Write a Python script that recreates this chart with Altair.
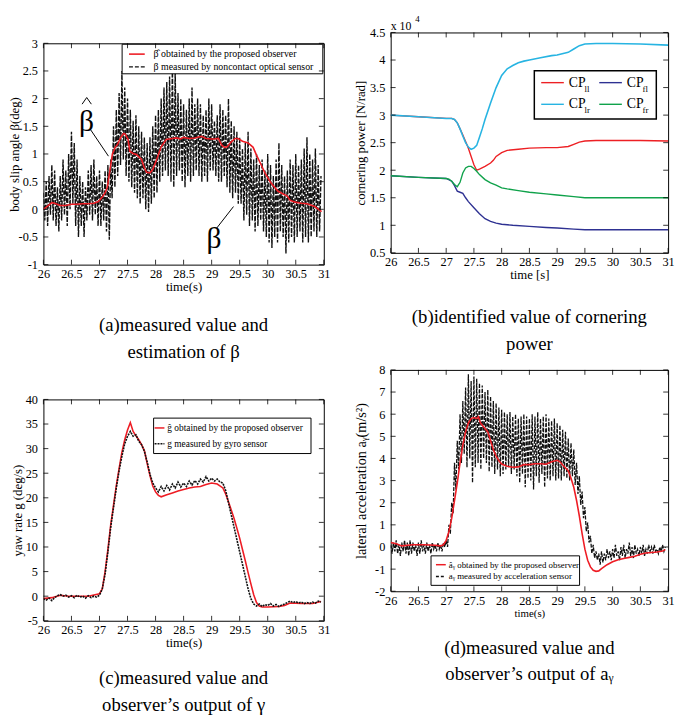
import altair as alt
import pandas as pd

FONT = "Liberation Serif"
RED = "#ee1c24"
BLACK = "#111111"

X_TICKS = [26, 26.5, 27, 27.5, 28, 28.5, 29, 29.5, 30, 30.5, 31]

# ---------------- (a) body slip angle ----------------
a_est_t = [26.0, 26.1, 26.15, 26.2, 26.3, 26.4, 26.5, 26.6, 26.7, 26.8, 26.9, 26.98, 27.05, 27.1,
           27.14, 27.2, 27.23, 27.28, 27.32, 27.38, 27.43, 27.46, 27.51, 27.54, 27.6, 27.66, 27.75,
           27.8, 27.84, 27.9, 27.95, 28.02, 28.1, 28.19, 28.3, 28.37, 28.45, 28.5, 28.6, 28.7, 28.82,
           28.9, 29.0, 29.05, 29.12, 29.18, 29.23, 29.28, 29.35, 29.42, 29.47, 29.55, 29.65, 29.74,
           29.8, 29.88, 29.95, 30.05, 30.18, 30.25, 30.35, 30.4, 30.49, 30.6, 30.7, 30.84, 30.96]
a_est_v = [0.0, 0.08, 0.12, 0.11, 0.07, 0.07, 0.09, 0.09, 0.1, 0.1, 0.11, 0.14, 0.22, 0.3,
           0.4, 0.8, 1.0, 1.12, 1.17, 1.3, 1.37, 1.36, 1.26, 1.05, 1.01, 0.99, 0.9,
           0.75, 0.67, 0.66, 0.72, 0.9, 1.13, 1.26, 1.28, 1.29, 1.27, 1.3, 1.28, 1.29, 1.32,
           1.28, 1.27, 1.27, 1.28, 1.16, 1.12, 1.13, 1.22, 1.28, 1.28, 1.23, 1.2, 1.12,
           0.98, 0.81, 0.66, 0.49, 0.33, 0.29, 0.24, 0.16, 0.13, 0.11, 0.1, 0.05, -0.04]
A_STEP = 0.025  # sampling period of the optical sensor record, from 26.0 s
a_meas_v = [
    0.3, -0.2, 0.5, -0.3, 0.6, -0.1, 0.8, -0.2, 0.7, -0.3, 0.4, -0.4, 0.6, -0.2, 0.9, -0.1, 0.7, -0.3, 1.0, 0.0,
    1.4, 0.1, 1.2, -0.3, 0.9, -0.5, 0.6, -0.3, 0.5, -0.5, 0.4, -0.2, 0.7, -0.1, 0.8, -0.2, 0.9, -0.1, 0.6, -0.3,
    0.7, -0.3, 0.5, -0.2, 0.7, -0.4, 0.8, -0.55, 0.9, 0.2, 1.5, 0.4, 1.8, 0.6, 2.1, 0.8, 2.5, 0.9, 2.2, 0.6,
    2.0, 0.5, 1.8, 0.4, 1.6, 0.3, 1.7, 0.2, 1.5, 0.1, 1.4, 0.2, 1.3, 0.0, 1.2, -0.05, 1.3, 0.1, 1.5, 0.2,
    1.7, 0.3, 1.8, 0.5, 2.0, 0.6, 2.2, 0.7, 2.3, 0.6, 2.4, 0.5, 2.6, 0.4, 2.5, 0.6, 2.1, 0.7, 2.0, 0.5,
    1.9, 0.4, 1.8, 0.6, 2.0, 0.5, 2.2, 0.6, 1.9, 0.7, 2.0, 0.6, 1.9, 0.5, 1.7, 0.6, 1.8, 0.5, 2.0, 0.7,
    1.9, 0.7, 1.6, 0.6, 1.7, 0.5, 1.9, 0.5, 1.8, 0.6, 1.7, 0.4, 2.0, 0.3, 1.6, 0.2, 1.5, 0.3, 1.4, 0.1,
    1.3, 0.1, 1.1, -0.2, 1.2, -0.1, 1.4, -0.3, 1.1, -0.2, 0.9, -0.4, 1.0, -0.3, 0.8, -0.2, 0.9, -0.4, 0.7, -0.5,
    1.0, -0.6, 0.8, -0.7, 0.6, -0.5, 0.9, -0.6, 1.2, -0.4, 0.8, -0.5, 0.6, -0.8, 0.7, -0.6, 0.9, -0.5, 0.8, -0.6,
    1.0, -0.5, 0.8, -0.4, 0.9, -0.6, 1.1, -0.5, 1.3, -0.6, 1.0, -0.5, 0.9, -0.4, 1.1, -0.5, 0.8, -0.4, 0.6]
a_y_ticks = [-1, -0.5, 0, 0.5, 1, 1.5, 2, 2.5, 3]
a_legend = ["β̂ obtained by the proposed observer", "β measured by noncontact optical sensor"]
a_ann_text = ["β", "β"]
a_ann_x = [26.77, 29.04]
a_ann_y = [1.58, -0.54]
# pointer lines, then the two strokes of the hat over the upper beta
a_arrow_x = [26.84, 29.09, 26.69, 26.772]
a_arrow_y = [1.44, -0.34, 1.90, 2.02]
a_arrow_x2 = [27.16, 29.39, 26.772, 26.855]
a_arrow_y2 = [0.96, 0.05, 2.02, 1.90]
a_caption = ["(a)measured value and", "estimation of β"]

# ---------------- (b) cornering power (x 10^4 N/rad) ----------------
b_lr_t = [26.0, 26.5, 27.0, 27.1, 27.15, 27.2, 27.25, 27.3, 27.35, 27.4, 27.45, 27.5, 27.55, 27.6, 27.65,
          27.7, 27.8, 27.9, 28.0, 28.1, 28.2, 28.3, 28.4, 28.5, 28.7, 28.9, 29.0, 29.2, 29.3, 29.4, 29.5,
          29.7, 30.0, 30.5, 31.0]
b_lr_v = [3.0, 2.97, 2.94, 2.94, 2.92, 2.86, 2.75, 2.62, 2.5, 2.42, 2.38, 2.4, 2.45, 2.6, 2.75,
          2.92, 3.22, 3.5, 3.72, 3.84, 3.9, 3.95, 3.98, 4.0, 4.04, 4.08, 4.09, 4.14, 4.2, 4.26, 4.29,
          4.3, 4.3, 4.29, 4.27]
b_ll_t = [26.0, 26.5, 27.0, 27.1, 27.15, 27.2, 27.25, 27.3, 27.35, 27.4, 27.45, 27.5, 27.55, 27.6, 27.7,
          27.8, 27.85, 27.9, 28.0, 28.1, 28.3, 28.5, 28.8, 29.0, 29.2, 29.3, 29.4, 29.5, 29.7, 30.0, 30.5, 31.0]
b_ll_v = [3.0, 2.97, 2.94, 2.94, 2.92, 2.86, 2.75, 2.64, 2.52, 2.4, 2.25, 2.1, 2.0, 2.02, 2.07,
          2.13, 2.18, 2.25, 2.32, 2.36, 2.38, 2.4, 2.41, 2.41, 2.43, 2.47, 2.51, 2.53, 2.54, 2.54, 2.54, 2.53]
b_fr_t = [26.0, 26.5, 27.0, 27.05, 27.1, 27.15, 27.2, 27.25, 27.3, 27.35, 27.4, 27.45, 27.5, 27.55, 27.6,
          27.7, 27.8, 27.9, 28.0, 28.1, 28.3, 28.5, 28.8, 29.0, 29.3, 29.5, 30.0, 31.0]
b_fr_v = [1.9, 1.87, 1.85, 1.84, 1.8, 1.74, 1.7, 1.78, 1.95, 2.04, 2.07, 2.07, 2.03, 1.98, 1.92,
          1.83, 1.77, 1.73, 1.68, 1.66, 1.63, 1.6, 1.57, 1.55, 1.52, 1.5, 1.5, 1.5]
b_fl_t = [26.0, 26.5, 27.0, 27.1, 27.15, 27.2, 27.25, 27.3, 27.35, 27.4, 27.5, 27.6, 27.7, 27.8, 27.9,
          28.0, 28.2, 28.5, 28.8, 29.0, 29.3, 29.5, 30.0, 31.0]
b_fl_v = [1.9, 1.87, 1.85, 1.8, 1.72, 1.62, 1.6, 1.58, 1.5, 1.43, 1.32, 1.21, 1.12, 1.07, 1.04,
          1.02, 1.0, 0.98, 0.96, 0.95, 0.93, 0.92, 0.92, 0.92]
b_y_ticks = [0.5, 1, 1.5, 2, 2.5, 3, 3.5, 4, 4.5]
b_names = ["CP", "CP", "CP", "CP"]
b_subs = ["ll", "fl", "lr", "fr"]
b_colors = ["#ed2024", "#2e3192", "#27b4e2", "#10a24b"]
b_caption = ["(b)identified value of cornering", "power"]

# ---------------- (c) yaw rate ----------------
c_est_t = [26.0, 26.15, 26.3, 26.45, 26.6, 26.8, 27.0, 27.05, 27.1, 27.15, 27.2, 27.25, 27.3, 27.35, 27.4,
           27.45, 27.5, 27.55, 27.6, 27.65, 27.7, 27.75, 27.8, 27.85, 27.9, 27.95, 28.0, 28.05, 28.1,
           28.2, 28.3, 28.4, 28.5, 28.6, 28.7, 28.8, 28.9, 29.0, 29.1, 29.2, 29.25, 29.3, 29.35, 29.4,
           29.45, 29.5, 29.55, 29.6, 29.65, 29.7, 29.75, 29.8, 29.85, 29.9, 30.0, 30.2, 30.3, 30.4,
           30.6, 30.8, 30.95]
c_est_v = [-0.5, -0.3, 0.2, 0.0, 0.0, 0.0, 0.5, 1.5, 5.0, 9.5, 14.5, 18.5, 22.5, 26.0, 29.3,
           31.8, 33.8, 35.3, 33.5, 32.6, 31.8, 30.8, 29.6, 27.0, 24.5, 22.4, 21.2, 20.5, 20.2,
           20.6, 21.0, 21.4, 21.7, 22.0, 22.2, 22.3, 22.7, 23.0, 22.8, 22.0, 20.8, 19.2, 17.5, 15.8,
           13.8, 11.8, 9.5, 7.2, 4.8, 2.5, 0.3, -1.3, -2.0, -2.2, -2.2, -2.1, -1.9, -1.4,
           -1.5, -1.5, -1.1]
C_STEP = 0.05  # sampling period of the gyro record, from 26.0 s
c_meas_v = [
    -0.5, -0.8, -0.4, -0.9, -0.3, 0.1, 0.3, 0.0, 0.2, -0.2, 0.1, -0.3, 0.2, -0.2, 0.0, -0.4, 0.1, -0.3, 0.0, -0.2,
    0.2, 1.5, 4.5, 9.0, 14.0, 18.0, 22.0, 25.5, 28.5, 31.0, 32.5, 33.5, 32.5, 32.8, 31.5, 30.8, 29.5, 27.3, 24.8, 23.0,
    22.0, 21.2, 22.3, 21.4, 22.5, 21.6, 22.8, 22.0, 23.2, 22.2, 23.0, 22.3, 23.4, 22.6, 23.5, 22.8, 23.8, 23.2, 24.3, 23.4,
    24.0, 23.4, 23.8, 23.2, 23.0, 21.5, 19.0, 16.5, 14.0, 11.5, 9.0, 6.5, 4.0, 1.5, -0.5, -1.6, -2.0, -1.6, -2.1, -1.7,
    -1.9, -1.5, -2.0, -1.7, -2.1, -1.8, -1.6, -1.3, -1.0, -1.3, -1.1, -1.4, -1.2, -1.5, -1.3, -1.5, -1.2, -1.4, -1.0, -1.2]
c_y_ticks = [-5, 0, 5, 10, 15, 20, 25, 30, 35, 40]
c_legend = ["ĝ obtained by the proposed observer", "g measured by gyro sensor"]
c_caption = ["(c)measured value and", "observer’s output of γ"]

# ---------------- (d) lateral acceleration ----------------
d_est_t = [26.0, 26.1, 26.2, 26.4, 26.6, 26.8, 26.9, 26.95, 27.0, 27.05, 27.1, 27.15, 27.2, 27.25, 27.3,
           27.35, 27.4, 27.45, 27.5, 27.55, 27.58, 27.62, 27.7, 27.75, 27.8, 27.85, 27.9, 27.95, 28.0,
           28.1, 28.2, 28.3, 28.4, 28.5, 28.6, 28.7, 28.8, 28.9, 29.0, 29.05, 29.1, 29.2, 29.25, 29.3,
           29.35, 29.4, 29.45, 29.5, 29.55, 29.6, 29.65, 29.7, 29.75, 29.8, 29.9, 30.0, 30.1, 30.2,
           30.3, 30.4, 30.5, 30.6, 30.7, 30.8, 30.9, 30.95]
d_est_v = [0.2, 0.15, 0.05, 0.1, 0.1, 0.08, 0.05, 0.1, 0.3, 0.7, 1.3, 2.1, 2.9, 3.8, 4.6,
           5.2, 5.6, 5.8, 5.85, 5.8, 5.88, 5.6, 5.35, 5.2, 4.8, 4.4, 4.1, 3.9, 3.75,
           3.65, 3.6, 3.62, 3.72, 3.72, 3.76, 3.76, 3.74, 3.85, 3.92, 3.85, 3.7, 3.45, 3.1, 2.7,
           2.1, 1.4, 0.6, -0.1, -0.6, -0.9, -1.05, -1.1, -1.08, -0.98, -0.8, -0.67, -0.58, -0.52,
           -0.47, -0.42, -0.33, -0.27, -0.25, -0.23, -0.18, -0.12]
D_STEP = 0.025  # sampling period of the acceleration record, from 26.0 s
d_meas_v = [
    0.1, -0.3, 0.2, -0.2, 0.3, -0.3, 0.1, -0.4, 0.2, -0.2, 0.3, -0.3, 0.2, -0.4, 0.3, -0.3, 0.2, -0.2, 0.1, -0.4,
    0.2, -0.3, 0.3, -0.2, 0.1, -0.3, 0.2, -0.2, 0.1, -0.3, 0.2, -0.1, 0.1, -0.2, 0.2, -0.1, 0.1, -0.2, 0.2, 0.0,
    0.3, 0.0, 1.0, 0.6, 2.0, 1.5, 3.8, 2.6, 4.8, 3.5, 6.0, 3.8, 6.6, 4.2, 7.2, 3.6, 7.8, 4.0, 7.5, 2.9,
    7.7, 3.6, 7.6, 3.8, 7.4, 3.5, 7.3, 4.0, 7.0, 3.8, 7.1, 3.4, 6.8, 3.6, 6.6, 3.3, 6.5, 3.5, 6.3, 3.2,
    6.2, 3.3, 6.1, 3.5, 6.0, 3.6, 6.1, 3.3, 5.9, 3.5, 6.0, 3.2, 5.8, 2.9, 5.9, 3.3, 6.0, 2.7, 5.9, 3.1,
    5.8, 3.0, 6.0, 2.6, 5.9, 3.2, 6.1, 2.9, 5.8, 3.3, 5.9, 2.7, 6.0, 3.1, 5.8, 3.0, 5.7, 3.2, 5.8, 3.0,
    5.6, 3.1, 5.5, 3.0, 5.3, 3.2, 5.2, 3.1, 4.9, 3.0, 4.7, 3.2, 4.4, 2.8, 3.8, 2.4, 3.2, 1.9, 2.5, 1.3,
    1.8, 0.7, 1.1, 0.2, 0.5, -0.3, 0.1, -0.5, -0.2, -0.6, -0.3, -0.8, -0.2, -0.7, -0.3, -0.6, -0.1, -0.5, -0.2, -0.6,
    -0.1, -0.5, 0.1, -0.4, -0.2, -0.6, 0.0, -0.4, 0.1, -0.5, -0.1, -0.3, 0.2, -0.4, 0.0, -0.5, 0.1, -0.3, -0.1, -0.4,
    0.0, -0.3, 0.1, -0.4, -0.1, -0.3, 0.1, -0.2, 0.0, -0.3, 0.1, -0.2, -0.1, -0.3, 0.0, -0.2, 0.1, -0.2, 0.0]
d_y_ticks = [-2, -1, 0, 1, 2, 3, 4, 5, 6, 7, 8]
d_legend = ["âᵧ obtained by the proposed observer", "aᵧ measured by acceleration sensor"]
d_caption = ["(d)measured value and", "observer’s output of aᵧ"]

# ---------------- helpers ----------------
ONE = pd.DataFrame({"k": [0]})
LABEL_EXPR = "'' + datum.value"


def sampled(values, step):
    return pd.DataFrame({"t": [round(26.0 + i * step, 3) for i in range(len(values))], "v": values})


def series(t, v):
    return pd.DataFrame({"t": t, "v": v})


def enc_xy(xs, ys, ax):
    xax, yax = ax
    return dict(x=alt.X("t:Q", scale=xs, axis=xax), y=alt.Y("v:Q", scale=ys, axis=yax))


def line(df, xs, ys, ax, color, width=1.3, dash=None):
    kw = dict(color=color, strokeWidth=width, clip=True)
    if dash:
        kw["strokeDash"] = dash
    return alt.Chart(df).mark_line(**kw).encode(**enc_xy(xs, ys, ax))


def frame(w, h, xs, ys, ax, yticks, L=5):
    xax, yax = ax
    tx = pd.DataFrame({"t": X_TICKS})
    ty = pd.DataFrame({"v": yticks})
    rk = dict(color="black", strokeWidth=0.8)
    return [
        alt.Chart(tx).mark_rule(**rk).encode(x=alt.X("t:Q", scale=xs, axis=xax),
                                             y=alt.value(h), y2=alt.value(h - L)),
        alt.Chart(tx).mark_rule(**rk).encode(x=alt.X("t:Q", scale=xs, axis=xax),
                                             y=alt.value(0), y2=alt.value(L)),
        alt.Chart(ty).mark_rule(**rk).encode(y=alt.Y("v:Q", scale=ys, axis=yax),
                                             x=alt.value(0), x2=alt.value(L)),
        alt.Chart(ty).mark_rule(**rk).encode(y=alt.Y("v:Q", scale=ys, axis=yax),
                                             x=alt.value(w), x2=alt.value(w - L)),
    ]


def box(x0, y0, x1, y1, sw=1.0):
    return alt.Chart(ONE).mark_rect(fill="white", stroke="black", strokeWidth=sw).encode(
        x=alt.value(x0), x2=alt.value(x1), y=alt.value(y0), y2=alt.value(y1))


def sample(x0, x1, y, color, dash=None, width=1.4):
    kw = dict(color=color, strokeWidth=width)
    if dash:
        kw["strokeDash"] = dash
    return alt.Chart(ONE).mark_rule(**kw).encode(x=alt.value(x0), x2=alt.value(x1), y=alt.value(y))


def label(x, y, text, size, color="black", align="left"):
    return alt.Chart(pd.DataFrame({"s": [text]})).mark_text(
        align=align, baseline="middle", font=FONT, fontSize=size, color=color).encode(
        x=alt.value(x), y=alt.value(y), text="s:N")


def axes(yticks, xtitle, ytitle, tx, xsize=13, ysize=13, lsize=12.5, xpad=3):
    xax = alt.Axis(values=X_TICKS, title=xtitle, labelExpr=LABEL_EXPR, labelFontSize=lsize,
                   titleFontSize=xsize, labelPadding=xpad, titlePadding=1)
    yax = alt.Axis(values=yticks, title=ytitle, labelExpr=LABEL_EXPR, labelFontSize=lsize,
                   titleFontSize=ysize, labelPadding=6, titleX=tx, titleBaseline="middle")
    return (xax, yax)


def caption(lines, offset):
    return alt.TitleParams(text=lines, orient="bottom", anchor="middle", font=FONT, fontSize=19,
                           fontWeight="normal", color="black", offset=offset, lineHeight=27)


XS = alt.Scale(domain=[26, 31], nice=False, zero=False)

# ---------------- panel (a) ----------------
WA, HA = 285, 225
ysa = alt.Scale(domain=[-1, 3], nice=False, zero=False)
AXA = axes(a_y_ticks, "time(s)", "body slip angle β(deg)", -29)
ann = pd.DataFrame({"t": a_ann_x, "v": a_ann_y, "s": a_ann_text})
arr = pd.DataFrame({"t": a_arrow_x, "v": a_arrow_y, "t2": a_arrow_x2, "v2": a_arrow_y2})
pa = alt.layer(
    line(sampled(a_meas_v, A_STEP), XS, ysa, AXA, BLACK, 1.4, [5, 1.5]),
    line(series(a_est_t, a_est_v), XS, ysa, AXA, RED, 1.6),
    alt.Chart(arr).mark_rule(color="black", strokeWidth=1).encode(
        **enc_xy(XS, ysa, AXA), x2="t2:Q", y2="v2:Q"),
    alt.Chart(ann).mark_text(font=FONT, fontSize=30, color="black", baseline="middle").encode(
        **enc_xy(XS, ysa, AXA), text="s:N"),
    box(80, 1, 284, 31),
    sample(87, 103, 11, RED, width=1.6),
    sample(87, 103, 24, BLACK, [4, 2], 1.2),
    label(112, 11, a_legend[0], 10),
    label(112, 24, a_legend[1], 10),
    *frame(WA, HA, XS, ysa, AXA, a_y_ticks),
).properties(width=WA, height=HA, title=caption(a_caption, 23))

# empty strip that lowers panel (a) relative to panel (b)
gap = alt.Chart(ONE).mark_rule(strokeOpacity=0, strokeWidth=0.5).encode(
    x=alt.value(1), x2=alt.value(2), y=alt.value(2)
).properties(width=WA, height=4, view=alt.ViewBackground(strokeOpacity=0))

# ---------------- panel (b) ----------------
WB, HB = 282, 224
ysb = alt.Scale(domain=[0.5, 4.5], nice=False, zero=False)
AXB = axes(b_y_ticks, "time [s]", "cornering power [N/rad]", -31)
b_layers = [
    line(series(b_ll_t, b_ll_v), XS, ysb, AXB, b_colors[0], 1.4),
    line(series(b_lr_t, b_lr_v), XS, ysb, AXB, b_colors[2], 1.6),
    line(series(b_fl_t, b_fl_v), XS, ysb, AXB, b_colors[1], 1.4),
    line(series(b_fr_t, b_fr_v), XS, ysb, AXB, b_colors[3], 1.4),
    label(0, -7, "x 10", 12),
    label(25, -14, "4", 9),
    box(146, 39, 270, 88, 1.5),
]
pos = [(153, 51), (212, 51), (153, 73), (212, 73)]
for (px, py), nm, sb, col in zip(pos, b_names, b_subs, b_colors):
    b_layers += [sample(px, px + 23, py, col, width=1.4),
                 label(px + 28, py, nm, 14),
                 label(px + 44, py + 6, sb, 9)]
pb = alt.layer(
    *b_layers,
    *frame(WB, HB, XS, ysb, AXB, b_y_ticks),
).properties(width=WB, height=HB, title=caption(b_caption, 27))

# ---------------- panel (c) ----------------
WC, HC = 285, 225
ysc = alt.Scale(domain=[-5, 40], nice=False, zero=False)
AXC = axes(c_y_ticks, "time(s)", "yaw rate g (deg/s)", -26)
pc = alt.layer(
    line(series(c_est_t, c_est_v), XS, ysc, AXC, RED, 1.6),
    line(sampled(c_meas_v, C_STEP), XS, ysc, AXC, BLACK, 1.6, [2, 1]),
    box(112, 19, 272, 55),
    sample(113, 123, 29, RED, width=1.5),
    sample(113, 123, 45, BLACK, [2, 1], 1.6),
    label(126, 29, c_legend[0], 9.5),
    label(126, 45, c_legend[1], 9.5),
    *frame(WC, HC, XS, ysc, AXC, c_y_ticks),
).properties(width=WC, height=HC, title=caption(c_caption, 20))

# ---------------- panel (d) ----------------
WD, HD = 282, 225
ysd = alt.Scale(domain=[-2, 8], nice=False, zero=False)
AXD = axes(d_y_ticks, "time(s)", "lateral acceleration  aᵧ(m/s²)", -30,
           xsize=11, ysize=14.5, lsize=12.5, xpad=3)
pd_ = alt.layer(
    line(sampled(d_meas_v, D_STEP), XS, ysd, AXD, BLACK, 1.3, [4, 1.5]),
    line(series(d_est_t, d_est_v), XS, ysd, AXD, RED, 1.6),
    box(41, 189, 192, 219),
    sample(46, 56, 198, RED, width=1.5),
    sample(46, 56, 210, BLACK, [3, 2], 1.4),
    label(59, 198, d_legend[0], 9),
    label(59, 210, d_legend[1], 9),
    *frame(WD, HD, XS, ysd, AXD, d_y_ticks),
).properties(width=WD, height=HD, title=caption(d_caption, 21))

left = alt.vconcat(alt.vconcat(gap, pa, spacing=0), pc, spacing=31)
right = alt.vconcat(pb, pd_, spacing=9)

chart = alt.hconcat(left, right, spacing=22).properties(
    padding=0, background="white"
).configure_view(
    stroke="black", strokeWidth=1
).configure_axis(
    labelFont=FONT, titleFont=FONT, labelColor="black", titleColor="black",
    titleFontWeight="normal", grid=False, ticks=False, domain=False,
    labelFlush=False, labelOverlap=False
)

chart.save("out.html", embed_options={"renderer": "svg", "actions": False})
